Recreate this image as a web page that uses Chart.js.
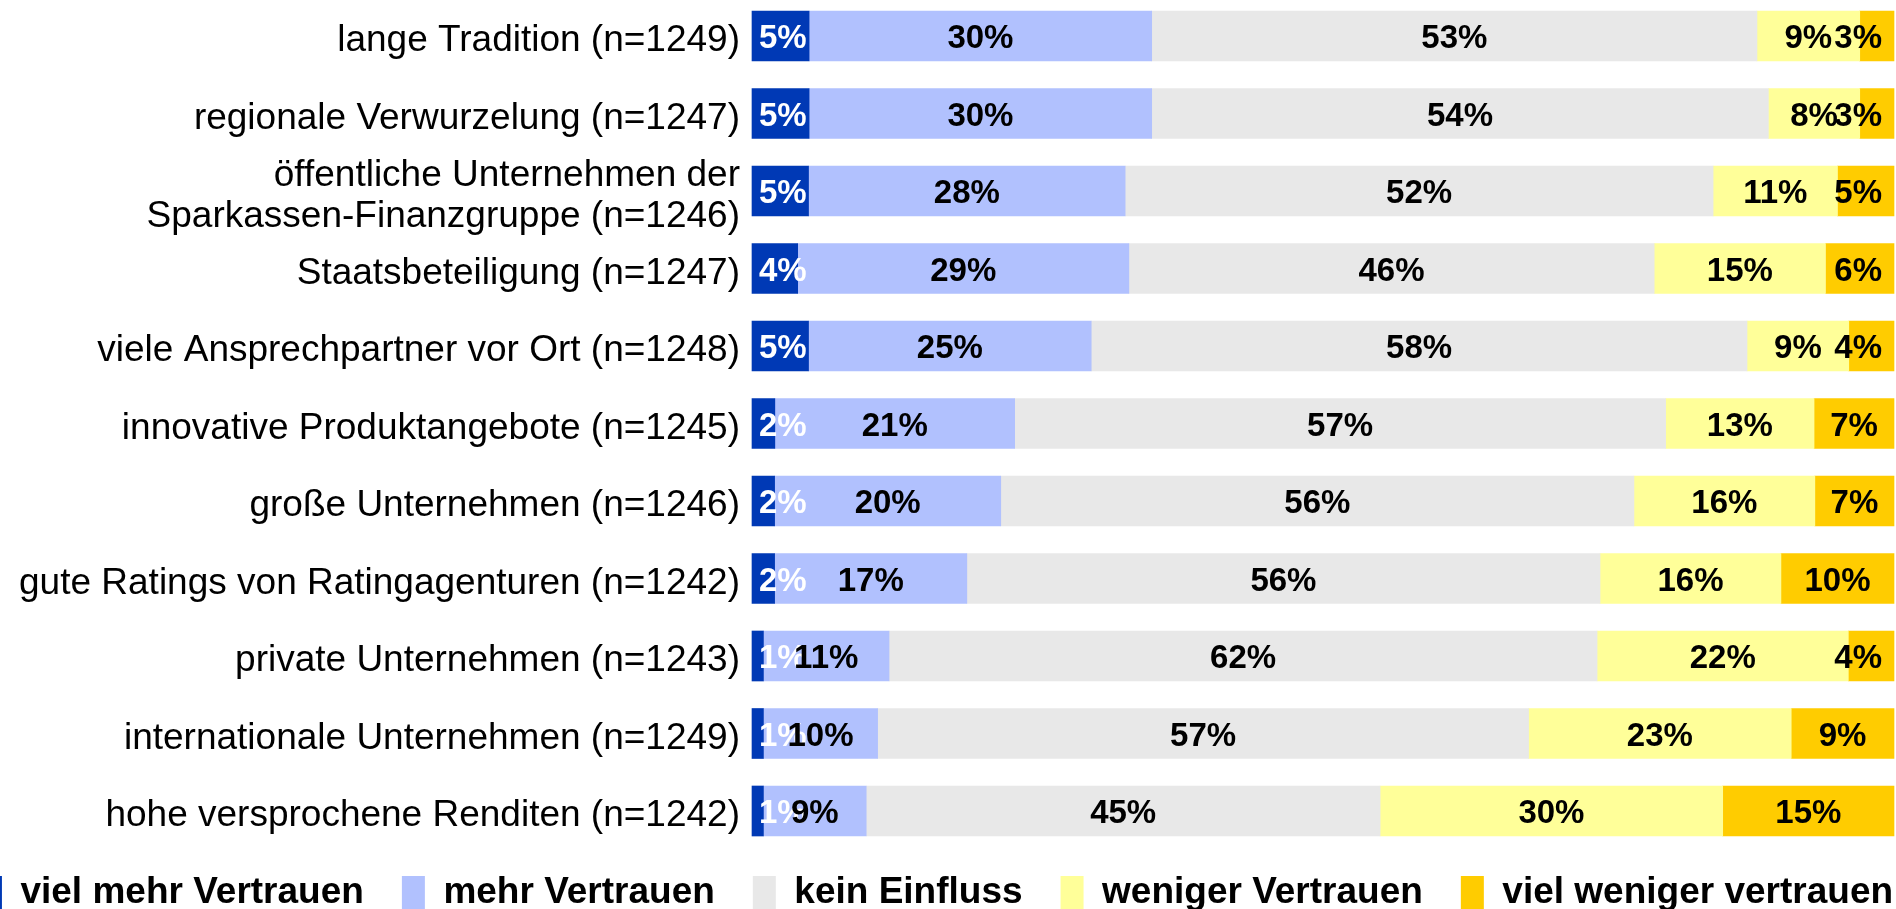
<!DOCTYPE html>
<html>
<head>
<meta charset="utf-8">
<script src="https://cdn.jsdelivr.net/npm/chart.js@4.4.1/dist/chart.umd.min.js"></script>
<style>
  html, body { margin: 0; padding: 0; background: #fff; overflow: hidden; width: 1896px; height: 909px; }
  #vertrauenChart { position: absolute; top: 0; left: -114px; }
</style>
</head>
<body>
<canvas id="vertrauenChart" width="2100" height="921"></canvas>
<script>
const categories = [
    'lange Tradition (n=1249)',
    'regionale Verwurzelung (n=1247)',
    ['öffentliche Unternehmen der', 'Sparkassen-Finanzgruppe (n=1246)'],
    'Staatsbeteiligung (n=1247)',
    'viele Ansprechpartner vor Ort (n=1248)',
    'innovative Produktangebote (n=1245)',
    'große Unternehmen (n=1246)',
    'gute Ratings von Ratingagenturen (n=1242)',
    'private Unternehmen (n=1243)',
    'internationale Unternehmen (n=1249)',
    'hohe versprochene Renditen (n=1242)'
];
const seriesNames = ['viel mehr Vertrauen', 'mehr Vertrauen', 'kein Einfluss', 'weniger Vertrauen', 'viel weniger vertrauen'];
const vielMehr = [5, 5, 5, 4, 5, 2, 2, 2, 1, 1, 1];
const mehr = [30, 30, 28, 29, 25, 21, 20, 17, 11, 10, 9];
const keinEinfluss = [53, 54, 52, 46, 58, 57, 56, 56, 62, 57, 45];
const weniger = [9, 8, 11, 15, 9, 13, 16, 16, 22, 23, 30];
const vielWeniger = [3, 3, 5, 6, 4, 7, 7, 10, 4, 9, 15];
const seriesColors = ['#0039B5', '#B1C1FE', '#E8E8E8', '#FFFF99', '#FFCC00'];

const series = [vielMehr, mehr, keinEinfluss, weniger, vielWeniger];
// 100% stacked: each row scaled to its own total
const rowTotals = categories.map((c, i) => series.reduce((s, arr) => s + arr[i], 0));

const FONT = "'Liberation Sans', Arial, sans-serif";

const valueLabels = {
    id: 'valueLabels',
    afterDatasetsDraw(chart) {
        const { ctx, chartArea } = chart;
        ctx.save();
        ctx.font = 'bold 33px ' + FONT;
        ctx.textAlign = 'center';
        ctx.textBaseline = 'middle';
        chart.data.datasets.forEach((ds, i) => {
            chart.getDatasetMeta(i).data.forEach((bar, j) => {
                const txt = series[i][j] + '%';
                const w = ctx.measureText(txt).width;
                let x = (bar.x + bar.base) / 2;
                x = Math.max(x, chartArea.left + 7 + w / 2);
                x = Math.min(x, chartArea.right - 12 - w / 2);
                ctx.fillStyle = i === 0 ? '#ffffff' : '#000000';
                ctx.fillText(txt, x, bar.y + 3);
            });
        });
        ctx.restore();
    }
};

const ctx = document.getElementById('vertrauenChart').getContext('2d');
new Chart(ctx, {
    type: 'bar',
    data: {
        labels: categories,
        datasets: series.map((arr, i) => ({
            label: seriesNames[i],
            data: arr.map((v, j) => v / rowTotals[j] * 100),
            backgroundColor: seriesColors[i],
            borderWidth: 0,
            barThickness: 50,
            clip: false
        }))
    },
    options: {
        indexAxis: 'y',
        responsive: false,
        animation: false,
        devicePixelRatio: 1,
        layout: { padding: { top: 36, left: 0, right: 0, bottom: 0 } },
        scales: {
            x: {
                stacked: true,
                min: 0,
                max: 100,
                grid: { display: false, drawTicks: false },
                border: { display: false },
                ticks: { display: false },
                afterFit: (s) => { s.height = 25; }
            },
            y: {
                stacked: true,
                offset: false,
                grid: { display: false, drawTicks: false },
                border: { display: false },
                ticks: {
                    autoSkip: false,
                    padding: 12,
                    labelOffset: 5,
                    color: '#000',
                    font: { family: FONT, size: 37, lineHeight: 1.11 }
                },
                afterFit: (s) => { s.width = 866; }
            },
            yr: {
                type: 'linear',
                position: 'right',
                grid: { display: false, drawTicks: false },
                border: { display: false },
                ticks: { display: false },
                afterFit: (s) => { s.width = 92; }
            }
        },
        plugins: {
            legend: {
                position: 'bottom',
                labels: {
                    boxWidth: 23,
                    boxHeight: 33,
                    padding: 38,
                    color: '#000',
                    font: { family: FONT, size: 37, weight: 'bold' }
                }
            },
            tooltip: { enabled: false }
        }
    },
    plugins: [valueLabels]
});
</script>
</body>
</html>
